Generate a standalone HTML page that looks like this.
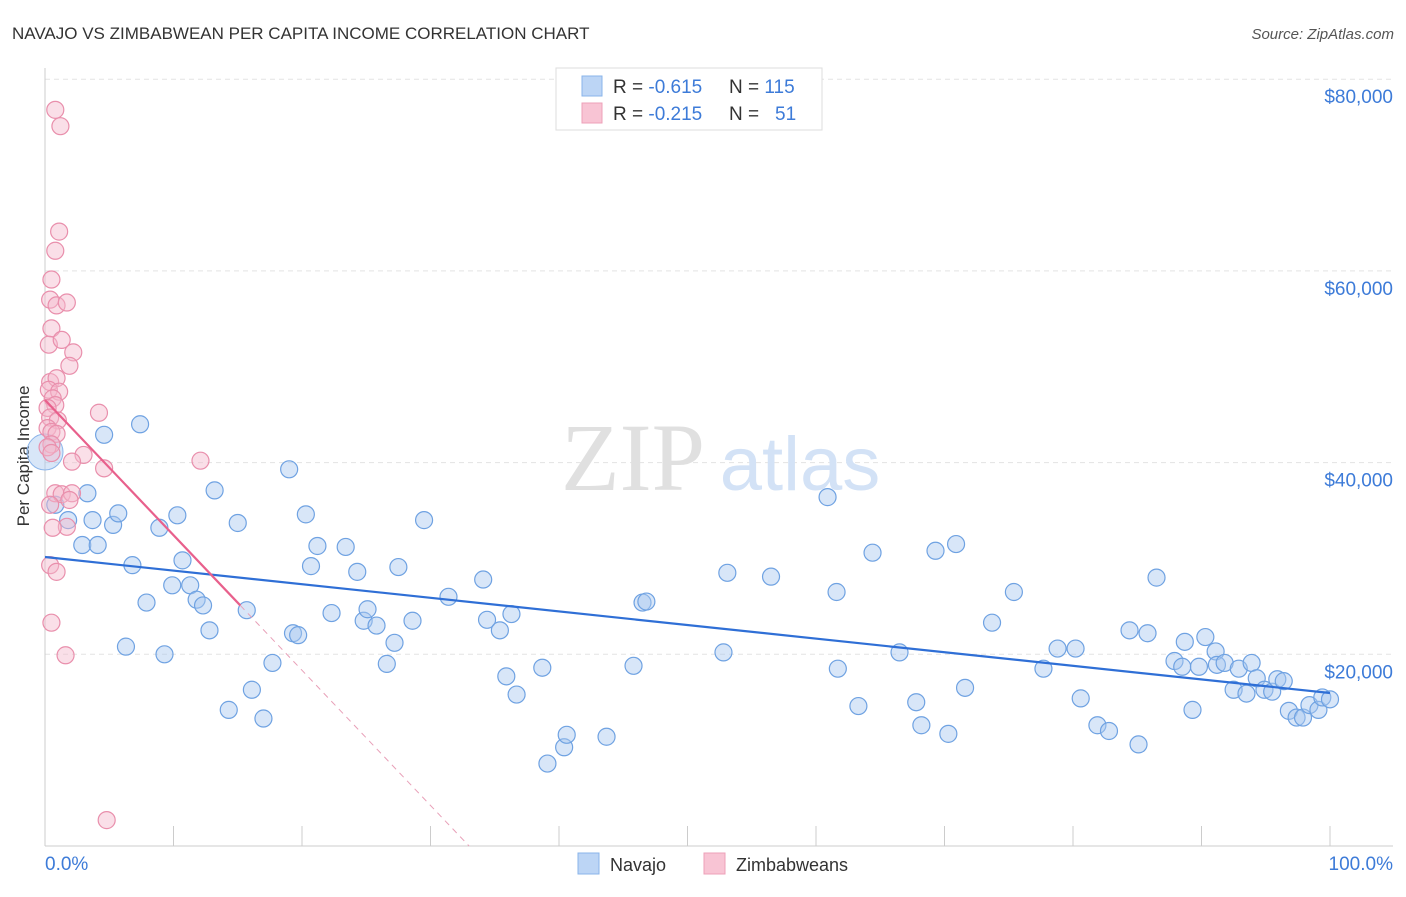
<!DOCTYPE html>
<html><head><meta charset="utf-8"><style>
body{margin:0;background:#fff;font-family:"Liberation Sans",sans-serif}
</style></head><body>
<svg id="chart" width="1406" height="892" xmlns="http://www.w3.org/2000/svg" font-family="Liberation Sans, sans-serif">
<text x="12" y="39" font-size="17" fill="#333">NAVAJO VS ZIMBABWEAN PER CAPITA INCOME CORRELATION CHART</text>
<text x="1394" y="39" font-size="15" fill="#555" text-anchor="end" font-style="italic">Source: ZipAtlas.com</text>
<text transform="translate(29,456) rotate(-90)" font-size="17" fill="#333" text-anchor="middle">Per Capita Income</text>
<g id="grid"></g>
<g><text x="633" y="490" font-size="96" fill="#e0e0e0" text-anchor="middle" font-family="Liberation Serif, serif">ZIP</text><text x="800" y="490" font-size="76" fill="#d3e2f6" text-anchor="middle">atlas</text></g>
<g id="pts"></g>
<g id="lines"></g>
<g>
<rect x="556" y="68" width="266" height="62" fill="#fff" stroke="#ddd"/>
<rect x="582" y="76" width="20" height="20" fill="#bcd5f5" stroke="#8ab4ea"/>
<rect x="582" y="103" width="20" height="20" fill="#f8c4d4" stroke="#eea0b8"/>
<text x="613" y="93" font-size="19" fill="#333">R = <tspan fill="#3d7bd8">-0.615</tspan><tspan x="729">N = </tspan><tspan fill="#3d7bd8">115</tspan></text>
<text x="613" y="120" font-size="19" fill="#333">R = <tspan fill="#3d7bd8">-0.215</tspan><tspan x="729">N = </tspan><tspan x="775" fill="#3d7bd8">51</tspan></text>
</g>
<g>
<rect x="578" y="853" width="21" height="21" fill="#bcd5f5" stroke="#8ab4ea"/>
<text x="610" y="871" font-size="18" fill="#333">Navajo</text>
<rect x="704" y="853" width="21" height="21" fill="#f8c4d4" stroke="#eea0b8"/>
<text x="736" y="871" font-size="18" fill="#333">Zimbabweans</text>
</g>
</svg>
<script>
const yTicks=[20000,40000,60000,80000];
const yTickLabels=["$20,000","$40,000","$60,000","$80,000"];
const xTickLabels=["0.0%","100.0%"];
const navajoX=[0.8,1.8,2.9,3.3,3.7,4.1,4.6,5.3,5.7,6.3,6.8,7.4,7.9,8.9,9.3,9.9,10.3,10.7,11.3,11.8,12.3,12.8,13.2,14.3,15.0,15.7,16.1,17.0,17.7,19.0,19.3,19.7,20.3,20.7,21.2,22.3,23.4,24.3,24.8,25.1,25.8,26.6,27.2,27.5,28.6,29.5,31.4,34.1,34.4,35.4,35.9,36.3,36.7,38.7,39.1,40.4,40.6,43.7,45.8,46.5,46.8,52.8,53.1,56.5,60.9,61.6,61.7,63.3,64.4,66.5,67.8,68.2,69.3,70.3,70.9,71.6,73.7,75.4,77.7,78.8,80.2,80.6,81.9,82.8,84.4,85.1,85.8,86.5,87.9,88.5,88.7,89.3,89.8,90.3,91.1,91.2,91.8,92.5,92.9,93.5,93.9,94.3,94.9,95.5,95.9,96.4,96.8,97.4,97.9,98.4,99.1,99.4,100];
const navajoY=[35.6,34.0,31.4,36.8,34.0,31.4,42.9,33.5,34.7,20.8,29.3,44.0,25.4,33.2,20.0,27.2,34.5,29.8,27.2,25.7,25.1,22.5,37.1,14.2,33.7,24.6,16.3,13.3,19.1,39.3,22.2,22.0,34.6,29.2,31.3,24.3,31.2,28.6,23.5,24.7,23.0,19.0,21.2,29.1,23.5,34.0,26.0,27.8,23.6,22.5,17.7,24.2,15.8,18.6,8.6,10.3,11.6,11.4,18.8,25.4,25.5,20.2,28.5,28.1,36.4,26.5,18.5,14.6,30.6,20.2,15.0,12.6,30.8,11.7,31.5,16.5,23.3,26.5,18.5,20.6,20.6,15.4,12.6,12.0,22.5,10.6,22.2,28.0,19.3,18.7,21.3,14.2,18.7,21.8,20.3,18.9,19.1,16.3,18.5,15.9,19.1,17.5,16.3,16.1,17.4,17.2,14.1,13.4,13.4,14.7,14.2,15.5,15.3];
const zimX=[0.8,1.2,1.1,0.8,0.5,0.4,0.9,1.7,0.5,0.3,1.3,2.2,1.9,0.4,0.9,0.3,1.1,0.6,0.8,0.2,0.4,1.0,0.2,0.5,0.9,0.5,0.2,0.5,4.2,3.0,2.1,4.6,12.1,0.8,1.3,2.1,1.9,0.4,1.7,0.6,0.4,0.9,0.5,1.6,4.8];
const zimY=[76.8,75.1,64.1,62.1,59.1,57.0,56.4,56.7,54.0,52.3,52.8,51.5,50.1,48.4,48.8,47.6,47.4,46.7,46.0,45.7,44.7,44.4,43.6,43.2,43.0,41.9,41.6,41.0,45.2,40.8,40.1,39.4,40.2,36.8,36.7,36.8,36.1,35.6,33.3,33.2,29.3,28.6,23.3,19.9,2.7];
const navajoTrend=[30.15,15.96];
const zimTrend=[46.53,-1.41];
const X=p=>45+p*12.85, Y=v=>846-v*0.009585;
const NS="http://www.w3.org/2000/svg";
function mk(t,a,p){const e=document.createElementNS(NS,t);for(const k in a)e.setAttribute(k,a[k]);p.appendChild(e);return e;}
const grid=document.getElementById('grid');
yTicks.forEach((v,i)=>{
 const l=mk('line',{x1:45,x2:1393,y1:Y(v),y2:Y(v),stroke:'#e3e3e3','stroke-dasharray':'5,4'},grid);
 
 
 const t=mk('text',{x:1393,y:Y(v)+24,'font-size':19,fill:'#3d7bd8','text-anchor':'end'},grid);t.textContent=yTickLabels[i];
 
 
});
mk('line',{x1:45,x2:45,y1:68,y2:846,stroke:'#ccc'},grid);
mk('line',{x1:45,x2:1393,y1:846,y2:846,stroke:'#ccc'},grid);
for(let i=0;i<=10;i++){mk('line',{x1:X(i*10),x2:X(i*10),y1:826,y2:846,stroke:'#ccc'},grid);}
const t0=mk('text',{x:45,y:870,'font-size':19,fill:'#3d7bd8'},grid);t0.textContent=xTickLabels[0];


const t1=mk('text',{x:1393,y:870,'font-size':19,fill:'#3d7bd8','text-anchor':'end'},grid);t1.textContent=xTickLabels[1];


const pts=document.getElementById('pts');
const big=mk('circle',{cx:X(0),cy:Y(41100),r:18,fill:'rgba(169,200,240,0.45)',stroke:'#8ab4ea'},pts);


navajoX.forEach((x,i)=>{const c=mk('circle',{cx:X(x),cy:Y(navajoY[i]*1000),r:8.5,fill:'rgba(169,200,240,0.45)',stroke:'#6fa2e2','stroke-width':1.2},pts);
 
 });
zimX.forEach((x,i)=>{const c=mk('circle',{cx:X(x),cy:Y(zimY[i]*1000),r:8.5,fill:'rgba(245,184,203,0.45)',stroke:'#e98fac','stroke-width':1.2},pts);
 
 });
const lines=document.getElementById('lines');
const bl=mk('line',{x1:X(0),y1:Y(navajoTrend[0]*1000),x2:X(100),y2:Y(navajoTrend[1]*1000),stroke:'#2f6fd6','stroke-width':2.2},lines);


const pe=15.2, pz=-zimTrend[0]/zimTrend[1];
const pl=mk('line',{x1:X(0),y1:Y(zimTrend[0]*1000),x2:X(pe),y2:Y((zimTrend[0]+zimTrend[1]*pe)*1000),stroke:'#e8608c','stroke-width':2.2},lines);


const pd=mk('line',{x1:X(pe),y1:Y((zimTrend[0]+zimTrend[1]*pe)*1000),x2:X(pz),y2:Y(0),stroke:'#e8a0b8','stroke-width':1,'stroke-dasharray':'6,5'},lines);


</script>
</body></html>
